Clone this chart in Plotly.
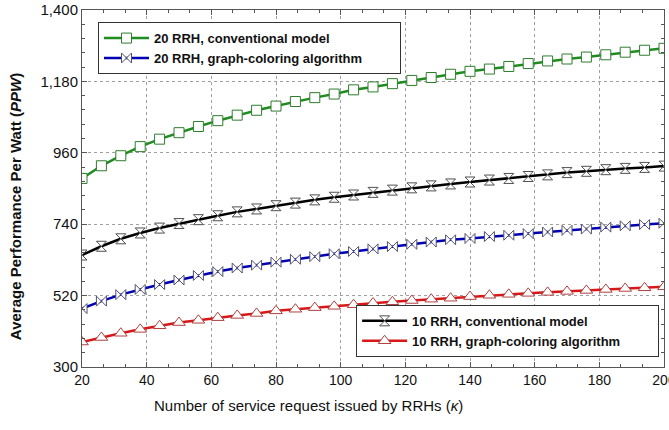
import plotly.graph_objects as go

x_vals = list(range(20, 201, 6))

green_20_conv = [881, 920, 951, 979, 1002, 1022, 1041, 1059, 1076, 1091, 1104,
                 1118, 1130, 1141, 1154, 1163, 1173, 1183, 1192, 1202, 1211,
                 1218, 1226, 1235, 1243, 1249, 1255, 1262, 1270, 1276, 1282]
blue_20_gc = [480, 503, 523, 539, 554, 568, 582, 594, 605, 614, 623,
              632, 640, 649, 656, 664, 671, 678, 685, 692, 696,
              702, 706, 711, 716, 721, 725, 731, 735, 739, 743]
black_10_conv = [645, 672, 695, 713, 728, 742, 754, 766, 778, 787, 797,
                 805, 815, 823, 830, 838, 845, 852, 858, 864, 870,
                 876, 881, 887, 892, 899, 903, 908, 912, 915, 919]
red_10_gc = [377, 391, 404, 416, 427, 437, 444, 452, 459, 465, 473,
             478, 483, 487, 492, 497, 501, 505, 509, 512, 517,
             521, 524, 527, 530, 533, 536, 539, 542, 544, 547]

names = ["20 RRH, conventional model", "20 RRH, graph-coloring algorithm",
         "10 RRH, conventional model", "10 RRH, graph-coloring algorithm"]
y_ticks = [300, 520, 740, 960, 1180, 1400]
x_ticks = [20, 40, 60, 80, 100, 120, 140, 160, 180, 200]
x_title = "Number of service request issued by RRHs (<i>κ</i>)"
y_title = "<b>Average Performance Per Watt (<i>PPW</i>)</b>"

FONT = "Arial, Liberation Sans, sans-serif"
PAD = "&nbsp;" * 9

fig = go.Figure()
styles = [
    (green_20_conv, "#1e8c1e", "square", "#2e7d2e", 10, "legend"),
    (blue_20_gc, "#0000b4", "bowtie", "#505070", 10, "legend"),
    (black_10_conv, "#000000", "hourglass", "#505050", 10, "legend2"),
    (red_10_gc, "#d81818", "triangle-up", "#b04040", 11, "legend2"),
]
for (ys, col, sym, edge, sz, lg), nm in zip(styles, names):
    fig.add_trace(go.Scatter(
        x=x_vals, y=ys, mode="lines+markers", name=nm + PAD, legend=lg,
        line=dict(color=col, width=2.5),
        marker=dict(symbol=sym, size=sz, color="white",
                    line=dict(color=edge, width=1)),
    ))

axis_common = dict(
    showline=True, linecolor="#555555", linewidth=1, mirror="allticks",
    ticks="inside", ticklen=5, tickcolor="#555555",
    showgrid=True, gridcolor="#a0a0a0", griddash="dot", gridwidth=1,
    zeroline=False, automargin=False, ticklabeloverflow="allow",
)

fig.update_xaxes(
    range=[20, 200], tickvals=x_ticks,
    tickfont=dict(family=FONT, size=14, color="#111111"),
    minor=dict(dtick=20 / 3, tick0=20, ticks="inside", ticklen=3,
               tickcolor="#555555", showgrid=False),
    **axis_common,
)
fig.update_yaxes(
    range=[300, 1400], tickvals=y_ticks, tickformat=",d",
    tickfont=dict(family=FONT, size=15, color="#111111"),
    minor=dict(dtick=44, tick0=300, ticks="inside", ticklen=3,
               tickcolor="#555555", showgrid=False),
    **axis_common,
)

fig.add_annotation(text=x_title, xref="paper", yref="paper",
                   x=0.39, y=-0.109, xanchor="center", yanchor="middle",
                   showarrow=False,
                   font=dict(family=FONT, size=15, color="#111111"))
fig.add_annotation(text=y_title, xref="paper", yref="paper",
                   x=-0.115, y=0.448, xanchor="center", yanchor="middle",
                   textangle=-90, showarrow=False,
                   font=dict(family=FONT, size=15, color="#111111"))

legend_common = dict(
    bgcolor="white", bordercolor="#333333", borderwidth=1,
    font=dict(family=FONT, size=13, color="#111111", weight="bold"),
    xanchor="left", yanchor="top", tracegroupgap=0, itemwidth=45,
)
fig.update_layout(
    width=669, height=430,
    margin=dict(l=82, r=5, t=10, b=63),
    paper_bgcolor="white", plot_bgcolor="white",
    legend=dict(x=0.0275, y=0.966, **legend_common),
    legend2=dict(x=0.471, y=0.174, **legend_common),
    showlegend=True,
)

fig.write_html("out.html", config={"displayModeBar": False},
               post_script="document.body.style.margin='0';")
